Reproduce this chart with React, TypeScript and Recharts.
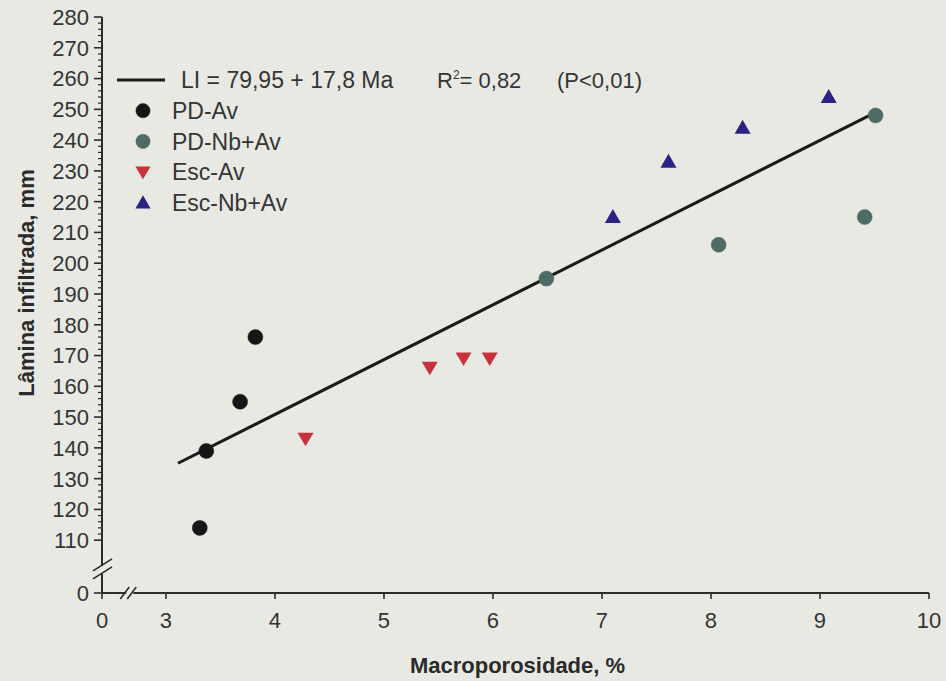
import React from 'react';
import { ScatterChart, Scatter, XAxis, YAxis, ReferenceLine, ReferenceDot, Legend } from 'recharts';

// ---------- data ----------
const pdAvX = [3.31, 3.37, 3.68, 3.82];
const pdAvY = [114, 139, 155, 176];

const pdNbAvX = [6.49, 8.07, 9.41, 9.51];
const pdNbAvY = [195, 206, 215, 248];

const escAvX = [4.28, 5.42, 5.73, 5.97];
const escAvY = [143, 166, 169, 169];

const escNbAvX = [7.1, 7.61, 8.29, 9.08];
const escNbAvY = [215, 233, 244, 254];

const fitX = [3.11, 9.51];
const fitY = [135, 249];

const xTickLabels = [0, 3, 4, 5, 6, 7, 8, 9, 10];
const yTickLabels = [0, 110, 120, 130, 140, 150, 160, 170, 180, 190, 200, 210, 220, 230, 240, 250, 260, 270, 280];

const legendTitle = 'LI = 79,95 + 17,8 Ma';
const legendR2 = '0,82';
const legendP = '(P<0,01)';

// ---------- broken-axis mapping ----------
const X_GAP = 0.587; // display distance between 0 and 3
const Y_GAP = 17.16; // display distance between 0 and 110
const toDX = (v: number) => (v === 0 ? 0 : v - 3 + X_GAP);
const toDY = (v: number) => (v === 0 ? 0 : v - 110 + Y_GAP);
const fromDX = (d: number) => (d < X_GAP / 2 ? 0 : Math.round(d + 3 - X_GAP));
const fromDY = (d: number) => (d < Y_GAP / 2 ? 0 : Math.round(d + 110 - Y_GAP));

const mk = (xs: number[], ys: number[]) => xs.map((x, i) => ({ x: toDX(x), y: toDY(ys[i]) }));

const series = [
  { name: 'PD-Av', color: '#161616', kind: 'circle', data: mk(pdAvX, pdAvY) },
  { name: 'PD-Nb+Av', color: '#4f6b65', kind: 'circle', data: mk(pdNbAvX, pdNbAvY) },
  { name: 'Esc-Av', color: '#c8323c', kind: 'down', data: mk(escAvX, escAvY) },
  { name: 'Esc-Nb+Av', color: '#2b2283', kind: 'up', data: mk(escNbAvX, escNbAvY) },
];

const xTicks = xTickLabels.map(toDX);
const yMinor: number[] = [];
for (let i = 1; i < yTickLabels.length - 1; i++) {
  const a = yTickLabels[i];
  for (let k = 2; k < 10; k += 2) yMinor.push(a + k);
}
const yTicks = [...yTickLabels, ...yMinor].map(toDY);

const FONT = '"Liberation Sans", Arial, Helvetica, sans-serif';
const INK = '#2b2b2b';
const TXT = '#353535';
const BG = '#e8e9e3';

const Marker = ({ cx, cy, kind, color, size = 1 }: any) => {
  if (cx == null || cy == null) return null;
  if (kind === 'circle') {
    return <circle cx={cx} cy={cy} r={7.5 * size} fill={color} stroke={color} strokeWidth={0.5} />;
  }
  if (kind === 'down') {
    const p = `${cx - 8 * size},${cy - 6 * size} ${cx + 8 * size},${cy - 6 * size} ${cx},${cy + 7.5 * size}`;
    return <polygon points={p} fill={color} />;
  }
  const p = `${cx - 8 * size},${cy + 6 * size} ${cx + 8 * size},${cy + 6 * size} ${cx},${cy - 8 * size}`;
  return <polygon points={p} fill={color} />;
};

const YTick = (props: any) => {
  const { x, y, payload } = props;
  const real = fromDY(payload.value);
  const major = yTickLabels.includes(real) && Math.abs(toDY(real) - payload.value) < 0.01;
  if (!major) {
    return <line x1={x} x2={x - 4} y1={y} y2={y} stroke={INK} strokeWidth={1.2} />;
  }
  return (
    <g>
      <line x1={x} x2={x - 8} y1={y} y2={y} stroke={INK} strokeWidth={1.6} />
      <text x={x - 13} y={y} dy="0.36em" textAnchor="end" fontSize={22} fill={TXT} fontFamily={FONT}>
        {real}
      </text>
    </g>
  );
};

const XTick = (props: any) => {
  const { x, y, payload } = props;
  const real = fromDX(payload.value);
  return (
    <g>
      <line x1={x} x2={x} y1={y} y2={y + 6} stroke={INK} strokeWidth={1.6} />
      <text x={x} y={y + 35} textAnchor="middle" fontSize={22} fill={TXT} fontFamily={FONT}>
        {real}
      </text>
    </g>
  );
};

const YBreak = (props: any) => {
  const { cx, cy } = props;
  if (cx == null) return null;
  return (
    <g>
      <rect x={cx - 3} y={cy - 5} width={6} height={8} fill={BG} />
      <line x1={cx - 9} y1={cy + 8} x2={cx + 10} y2={cy - 4} stroke={INK} strokeWidth={1.6} />
      <line x1={cx - 9} y1={cy} x2={cx + 10} y2={cy - 12} stroke={INK} strokeWidth={1.6} />
    </g>
  );
};

const XBreak = (props: any) => {
  const { cx, cy } = props;
  if (cx == null) return null;
  return (
    <g>
      <rect x={cx - 3} y={cy - 3} width={7} height={6} fill={BG} />
      <line x1={cx - 9} y1={cy + 6} x2={cx} y2={cy - 6} stroke={INK} strokeWidth={1.6} />
      <line x1={cx - 2} y1={cy + 6} x2={cx + 7} y2={cy - 6} stroke={INK} strokeWidth={1.6} />
    </g>
  );
};

const rowY = (i: number) => 80 + 30.7 * i;

const renderLegend = () => (
  <svg width={720} height={230} style={{ display: 'block', overflow: 'visible' }}>
    <line x1={117} x2={165} y1={rowY(0)} y2={rowY(0)} stroke="#1a1a1a" strokeWidth={3} />
    <text x={181} y={rowY(0)} dy="0.36em" fontSize={23} fill={TXT} fontFamily={FONT}>
      {legendTitle}
    </text>
    <text x={437} y={rowY(0)} dy="0.36em" fontSize={22} fill={TXT} fontFamily={FONT}>
      R
      <tspan dy={-9} fontSize={12}>2</tspan>
      <tspan dy={9}>{'= ' + legendR2}</tspan>
    </text>
    <text x={557} y={rowY(0)} dy="0.36em" fontSize={22} fill={TXT} fontFamily={FONT}>
      {legendP}
    </text>
    {series.map((s, i) => (
      <g key={s.name}>
        <Marker cx={143} cy={rowY(i + 1)} kind={s.kind} color={s.color} size={0.95} />
        <text x={172} y={rowY(i + 1)} dy="0.36em" fontSize={23} fill={TXT} fontFamily={FONT}>
          {s.name}
        </text>
      </g>
    ))}
  </svg>
);

export default function App() {
  return (
    <div
      style={{
        position: 'absolute',
        left: 0,
        top: 0,
        width: 946,
        height: 681,
        background: BG,
        fontFamily: FONT,
      }}
    >
      <ScatterChart width={946} height={681} margin={{ top: 17, right: 17, bottom: 48, left: 32 }}>
        <XAxis
          type="number"
          dataKey="x"
          domain={[0, toDX(10)]}
          ticks={xTicks}
          interval={0}
          allowDataOverflow
          height={40}
          tickSize={0}
          tickMargin={0}
          tickLine={false}
          tick={<XTick />}
          axisLine={{ stroke: INK, strokeWidth: 2 }}
          label={(p: any) => {
            const vb = p.viewBox || { x: 102, y: 593, width: 827 };
            return (
              <text
                x={vb.x + vb.width / 2 + 2}
                y={vb.y + 80}
                textAnchor="middle"
                fontSize={22}
                fontWeight="bold"
                fill="#2a2a2a"
                fontFamily={FONT}
              >
                Macroporosidade, %
              </text>
            );
          }}
        />
        <YAxis
          type="number"
          dataKey="y"
          domain={[0, toDY(280)]}
          ticks={yTicks}
          interval={0}
          allowDataOverflow
          width={70}
          tickSize={0}
          tickMargin={0}
          tickLine={false}
          tick={<YTick />}
          axisLine={{ stroke: INK, strokeWidth: 2 }}
          label={(p: any) => {
            const vb = p.viewBox || { x: 32, y: 17, height: 576 };
            const cx = 34;
            const cy = vb.y + vb.height / 2 - 22;
            return (
              <text
                x={cx}
                y={cy}
                transform={`rotate(-90, ${cx}, ${cy})`}
                textAnchor="middle"
                fontSize={22}
                fontWeight="bold"
                fill="#2a2a2a"
                fontFamily={FONT}
              >
                Lâmina infiltrada, mm
              </text>
            );
          }}
        />
        <ReferenceLine
          segment={[
            { x: toDX(fitX[0]), y: toDY(fitY[0]) },
            { x: toDX(fitX[1]), y: toDY(fitY[1]) },
          ]}
          stroke="#1a1a1a"
          strokeWidth={3}
          ifOverflow="visible"
        />
        {series.map((s) => (
          <Scatter
            key={s.name}
            name={s.name}
            data={s.data}
            fill={s.color}
            isAnimationActive={false}
            shape={(p: any) => <Marker cx={p.cx} cy={p.cy} kind={s.kind} color={s.color} />}
          />
        ))}
        <ReferenceDot x={0} y={7.2} r={0} ifOverflow="visible" shape={(p: any) => <YBreak {...p} />} />
        <ReferenceDot x={0.25} y={0} r={0} ifOverflow="visible" shape={(p: any) => <XBreak {...p} />} />
        <Legend
          layout="vertical"
          align="center"
          verticalAlign="middle"
          content={renderLegend}
          wrapperStyle={{ position: 'absolute', left: 0, top: 0, width: 720, height: 230 }}
        />
      </ScatterChart>
    </div>
  );
}
